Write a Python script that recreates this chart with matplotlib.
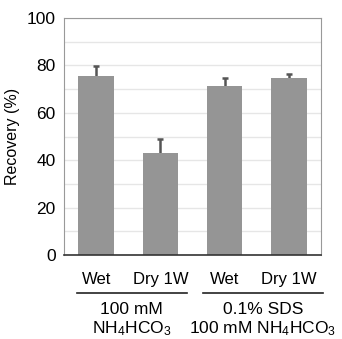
import matplotlib
matplotlib.use('Agg')
import matplotlib.pyplot as plt

plt.rcParams['font.family'] = ['Liberation Sans', 'DejaVu Sans']
plt.rcParams['mathtext.fontset'] = 'custom'
plt.rcParams['mathtext.rm'] = 'Liberation Sans'
plt.rcParams['mathtext.it'] = 'Liberation Sans'

# data
conditions = ['Wet', 'Dry 1W', 'Wet', 'Dry 1W']
recovery = [75.5, 43, 71.5, 74.5]
errors = [4.3, 6, 3.3, 1.8]
groups = ['100 mM\nNH$_4$HCO$_3$', '0.1% SDS\n100 mM NH$_4$HCO$_3$']

fig = plt.figure(figsize=(3.42, 3.39), dpi=100)
ax = fig.add_axes([64 / 342, 1 - 255 / 339, 257 / 342, 237 / 339])

x = range(len(recovery))
# error bars behind the bars so only the upper half shows
ax.errorbar(x, recovery, yerr=errors, fmt='none', ecolor='#555555',
            elinewidth=1.8, capsize=2.5, capthick=1.8, zorder=1)
ax.bar(x, recovery, width=0.55, color='#959595', zorder=2)

ax.set_xlim(-0.5, 3.5)
ax.set_ylim(0, 100)
ax.set_yticks(range(0, 101, 20))
ax.set_yticks(range(0, 101, 10), minor=True)
ax.grid(axis='y', which='both', color='#e6e6e6', linewidth=1, zorder=0)
ax.set_axisbelow(True)
ax.tick_params(axis='y', which='both', length=0, labelsize=12.5, pad=6)
ax.tick_params(axis='x', length=0, pad=12)
ax.set_xticks(list(x))
ax.set_xticklabels(conditions, fontsize=12)
for s in ax.spines.values():
    s.set_color('#999999')
ax.spines['bottom'].set_color('#333333')
ax.spines['bottom'].set_linewidth(1.2)
ax.set_ylabel('Recovery (%)', fontsize=11.5)
ax.yaxis.set_label_coords(-0.171, 0.5)

# group brackets below axis
for i, label in enumerate(groups):
    x0, x1 = (-0.3, 1.41) if i == 0 else (1.66, 3.53)
    ax.plot([x0, x1], [-16, -16], color='#222222', lw=1.2, clip_on=False)
    ax.text((x0 + x1) / 2, -20, label, ha='center', va='top', fontsize=12.5,
            linespacing=1.1, clip_on=False)

fig.savefig('out.png', dpi=100)
